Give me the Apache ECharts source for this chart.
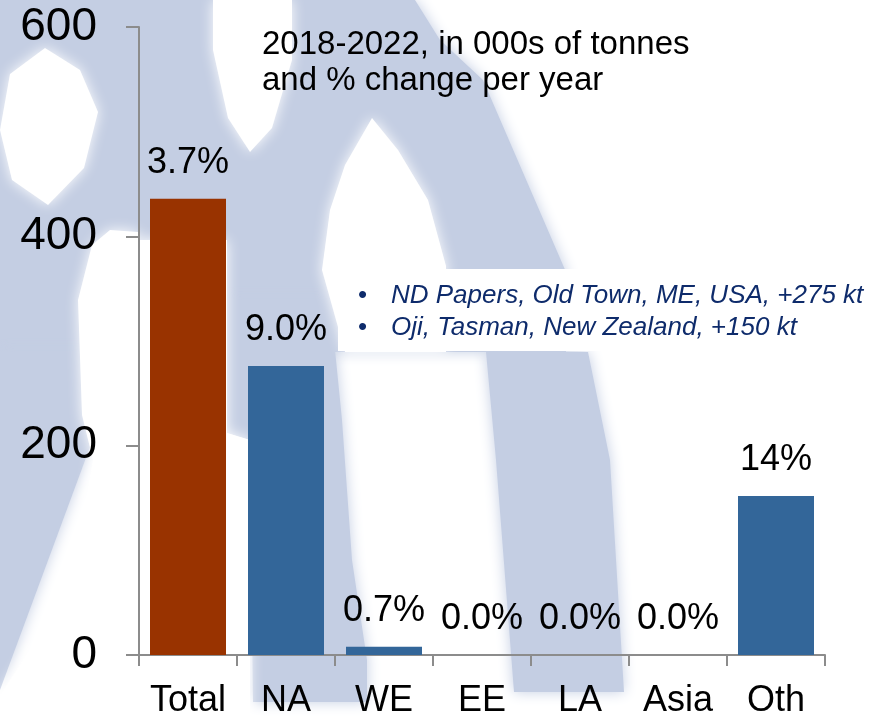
<!DOCTYPE html>
<html>
<head>
<meta charset="utf-8">
<script src="https://cdn.jsdelivr.net/npm/echarts@6/dist/echarts.min.js"></script>
<style>
html,body{margin:0;padding:0;background:#fff;}
#chart{width:882px;height:719px;}
</style>
</head>
<body>
<div id="chart"></div>
<script>
// ---- data ----
var categories = ['Total', 'NA', 'WE', 'EE', 'LA', 'Asia', 'Oth'];
var volumes = [436, 276, 8, 0, 0, 0, 152];           // 000s of tonnes
var changeLabels = ['3.7%', '9.0%', '0.7%', '0.0%', '0.0%', '0.0%', '14%'];
var yTicks = [0, 200, 400, 600];
var titleLines = ['2018-2022, in 000s of tonnes', 'and % change per year'];
var notes = ['ND Papers, Old Town, ME, USA, +275 kt', 'Oji, Tasman, New Zealand, +150 kt'];

var FONT = '"Liberation Sans", Arial, Helvetica, sans-serif';
var WM = '#c4cee3';

function blue(points) {
  return { type: 'polygon', z: -20, silent: true,
    shape: { points: points, smooth: 0 },
    style: { fill: WM, shadowColor: WM, shadowBlur: 14 } };
}
function white(points) {
  return { type: 'polygon', z: -19, silent: true,
    shape: { points: points },
    style: { fill: '#ffffff', shadowColor: '#ffffff', shadowBlur: 14 } };
}

var watermark = [
  blue([[0,0],[415,0],[440,40],[483,80],[566,272],[566,352],[0,352]]),
  blue([[0,352],[90,352],[100,420],[0,690]]),
  blue([[227,300],[330,300],[342,420],[352,560],[367,660],[367,702],[253,702],[250,440],[227,433]]),
  blue([[486,352],[588,352],[610,460],[624,692],[514,692],[496,460]]),
  // holes
  white([[45,48],[80,70],[98,112],[84,168],[48,205],[12,180],[0,130],[10,74]]),
  white([[213,0],[292,0],[292,60],[272,128],[250,152],[228,118],[213,50]]),
  white([[372,118],[398,150],[428,200],[446,266],[446,352],[345,352],[322,270],[330,210],[345,165]]),
  white([[110,230],[138,232],[138,719],[0,719],[0,695],[33,645],[77,553],[93,460],[82,415],[78,300],[92,245]]),
  white([[138,240],[227,240],[227,433],[250,440],[250,719],[138,719]])
];

var graphics = watermark.concat([
  { type: 'text', left: 262, top: 27, z: 50, silent: true,
    style: { text: titleLines.join('\n'), font: '33px ' + FONT, fill: '#000', lineHeight: 36 } },
  { type: 'rect', z: 40, silent: true,
    shape: { x: 338, y: 269, width: 544, height: 82 },
    style: { fill: '#ffffff' } }
]);
notes.forEach(function (t, i) {
  graphics.push({ type: 'text', left: 358, top: 283 + i * 32, z: 50, silent: true,
    style: { text: '\u2022', font: '26px ' + FONT, fill: '#0e2b6b' } });
  graphics.push({ type: 'text', left: 391, top: 283 + i * 32, z: 50, silent: true,
    style: { text: t, font: 'italic 26px ' + FONT, fill: '#0e2b6b' } });
});

var chart = echarts.init(document.getElementById('chart'), null, { renderer: 'canvas' });
chart.setOption({
  animation: false,
  backgroundColor: '#ffffff',
  textStyle: { fontFamily: FONT },
  grid: { left: 139, right: 57, top: 27, bottom: 61, containLabel: false },
  graphic: graphics,
  xAxis: {
    type: 'category',
    data: categories,
    boundaryGap: true,
    axisLine: { show: true, lineStyle: { color: '#8c8c8c', width: 2 } },
    axisTick: { show: true, length: 11, alignWithLabel: false, lineStyle: { color: '#8c8c8c', width: 2 } },
    axisLabel: { fontSize: 36, color: '#000', margin: 28, fontFamily: FONT, interval: 0 },
    splitLine: { show: false }
  },
  yAxis: {
    type: 'value',
    min: yTicks[0],
    max: yTicks[yTicks.length - 1],
    interval: yTicks[1] - yTicks[0],
    axisLine: { show: true, lineStyle: { color: '#8c8c8c', width: 2 } },
    axisTick: { show: true, length: 13, lineStyle: { color: '#8c8c8c', width: 2 } },
    axisLabel: { fontSize: 46, color: '#000', margin: 42, fontFamily: FONT },
    splitLine: { show: false }
  },
  series: [{
    type: 'bar',
    data: volumes,
    barWidth: 76,
    z: 5,
    itemStyle: {
      color: function (p) { return p.dataIndex === 0 ? '#993300' : '#336699'; }
    },
    label: {
      show: true,
      position: 'top',
      distance: 18,
      fontSize: 36,
      color: '#000',
      fontFamily: FONT,
      formatter: function (p) { return changeLabels[p.dataIndex]; }
    }
  }]
});
</script>
</body>
</html>
